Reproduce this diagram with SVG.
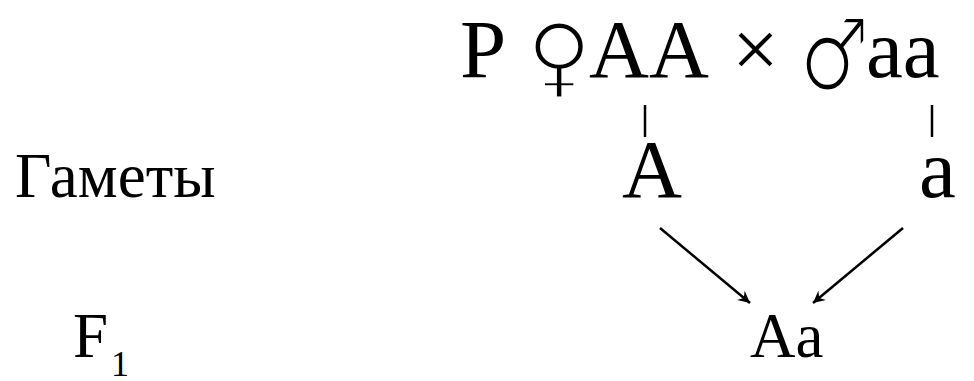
<svg xmlns="http://www.w3.org/2000/svg" width="974" height="381" viewBox="0 0 974 381">
<style>
.t{font-family:'Liberation Serif','Times New Roman',serif;fill:#000}
.big{font-size:83px}
.mid{font-size:63px}
.sym{font-family:'DejaVu Sans',sans-serif;font-size:92px;fill:#000;stroke:#fff;stroke-width:3.5}
.line{stroke:#000;stroke-width:2.5;fill:none}
</style>
<defs>
<marker id="arr" viewBox="-12 -6 14 12" refX="0" refY="0" markerWidth="14" markerHeight="12" markerUnits="userSpaceOnUse" orient="auto">
<path d="M0,0 L-12,-6 L-8,0 L-12,6 Z" fill="#000"/>
</marker>
</defs>
<g id="parents">
<text class="t big" x="460" y="77">P</text>
<text class="sym" transform="translate(526,87) scale(0.98,0.97)" x="0" y="0">♀</text>
<text class="t big" x="589" y="77">AA</text>
<text class="t big" x="732" y="77">×</text>
<text class="sym" transform="translate(799,90) scale(0.86,1.1)" x="0" y="0">♂</text>
<text class="t big" x="866" y="77">aa</text>
</g>
<g id="gametes-label"><text class="t mid" x="15" y="197">Гаметы</text></g>
<g id="gamete-A"><text class="t big" x="622" y="197">A</text></g>
<g id="gamete-a"><text class="t big" x="919" y="197">a</text></g>
<g id="f1-label"><text class="t mid" x="73" y="357">F</text><text class="t" x="111" y="376" style="font-size:36px">1</text></g>
<g id="offspring"><text class="t mid" x="750" y="357">Aa</text></g>
<g id="connectors">
<line class="line" x1="645" y1="105" x2="645" y2="137"/>
<line class="line" x1="932" y1="105" x2="932" y2="137"/>
<line class="line" x1="660" y1="228" x2="750" y2="303" marker-end="url(#arr)"/>
<line class="line" x1="903" y1="228" x2="813" y2="303" marker-end="url(#arr)"/>
</g>
</svg>
